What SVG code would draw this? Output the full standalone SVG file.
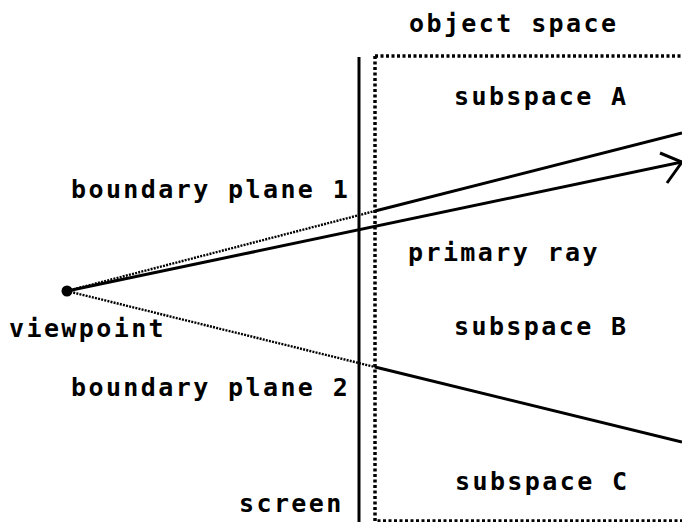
<svg xmlns="http://www.w3.org/2000/svg" width="682" height="522" viewBox="0 0 682 522">
<style>
text{font-family:"DejaVu Sans Mono","Liberation Mono",monospace;font-weight:bold;font-size:25px;letter-spacing:2.4px;fill:#000}
.solid{stroke:#000;stroke-width:3;fill:none}
.dot{stroke:#000;stroke-width:2.4;stroke-dasharray:2 1.2;fill:none}
.box{stroke:#000;stroke-width:3.5;stroke-dasharray:3 2.5;fill:none}
</style>
<rect width="682" height="522" fill="#fff"/>
<g id="object-space">
<path class="box" d="M375,56 H682 M375,56 V521 H682"/>
<text x="409" y="32">object space</text>
</g>
<g id="screen">
<line class="solid" x1="359" y1="57" x2="359" y2="522" stroke-width="3.2"/>
<text x="239" y="512">screen</text>
</g>
<g id="viewpoint">
<circle cx="67" cy="291" r="5.5" fill="#000"/>
<text x="9" y="337">viewpoint</text>
</g>
<g id="subspace-A"><text x="454" y="105">subspace A</text></g>
<g id="subspace-B"><text x="454" y="335">subspace B</text></g>
<g id="subspace-C"><text x="455" y="490">subspace C</text></g>
<g id="labels">
<text x="71" y="198">boundary plane 1</text>
<text x="71" y="396">boundary plane 2</text>
<text x="408" y="261">primary ray</text>
</g>
<g id="connectors">
<line class="dot" x1="67" y1="291" x2="375" y2="211"/>
<line class="solid" x1="375" y1="211" x2="682" y2="133"/>
<line class="dot" x1="67" y1="291" x2="375" y2="367"/>
<line class="solid" x1="375" y1="367" x2="682" y2="442"/>
<line class="solid" x1="67" y1="291" x2="682" y2="162"/>
<path class="solid" d="M660,153 L682,162 L667,183" stroke-width="2.2"/>
</g>
</svg>
